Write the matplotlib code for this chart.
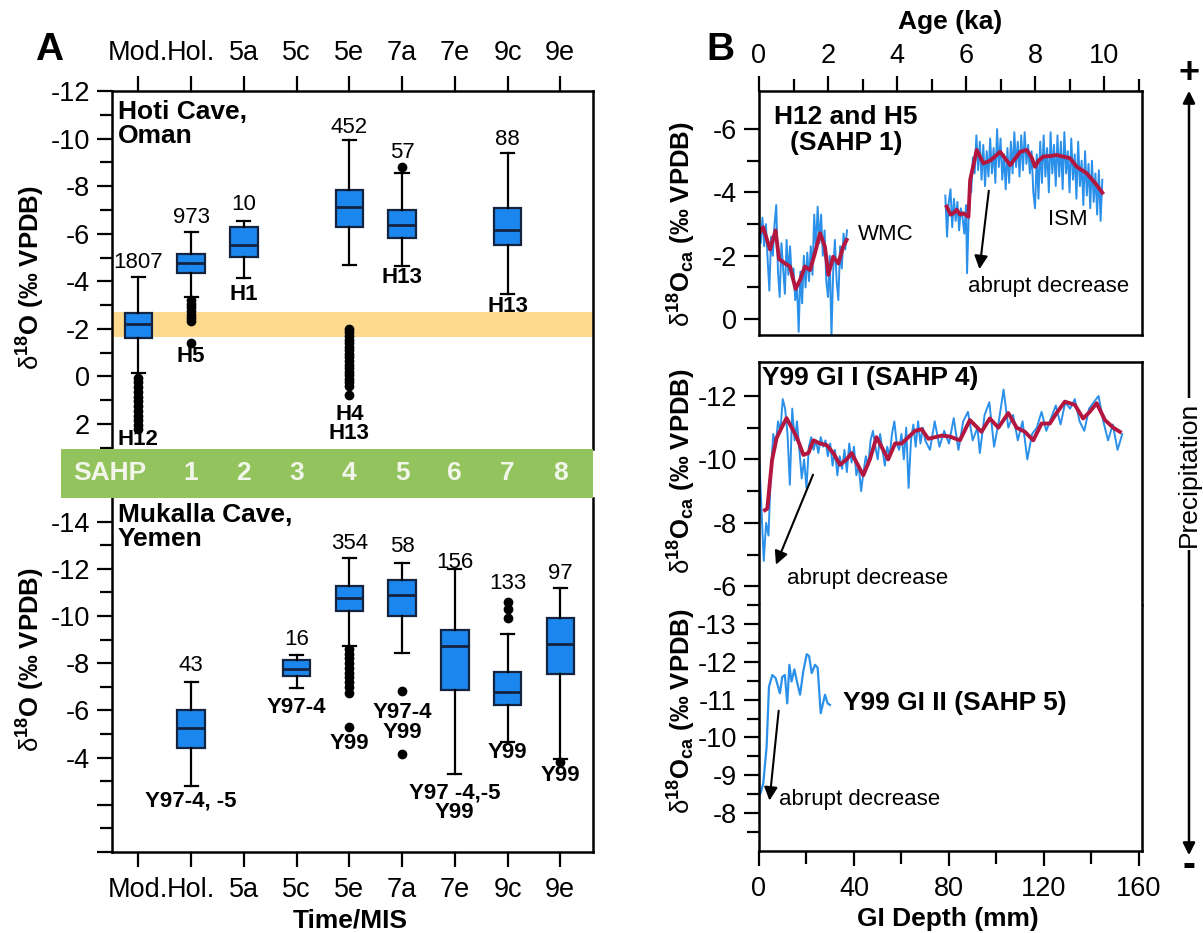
import numpy as np
import matplotlib
matplotlib.use("Agg")
import matplotlib.pyplot as plt
import matplotlib.transforms as mtransforms
from matplotlib.patches import Rectangle, FancyArrowPatch

plt.rcParams['font.family'] = ['Liberation Sans', 'DejaVu Sans']
plt.rcParams['axes.unicode_minus'] = False
plt.rcParams['mathtext.fontset'] = 'custom'
plt.rcParams['mathtext.rm'] = 'Liberation Sans'
plt.rcParams['mathtext.it'] = 'Liberation Sans:italic'
plt.rcParams['mathtext.bf'] = 'Liberation Sans:bold'

# ---- panel A: box plot statistics ----
mis_labels = ["Mod.", "Hol.", "5a", "5c", "5e", "7a", "7e", "9c", "9e"]
sahp_labels = ["1", "2", "3", "4", "5", "6", "7", "8"]

hoti_pos = [1, 2, 3, 5, 6, 8]
hoti_q1 = [-2.66, -5.15, -6.30, -7.85, -7.00, -7.08]
hoti_med = [-2.19, -4.77, -5.53, -7.14, -6.36, -6.16]
hoti_q3 = [-1.60, -4.35, -5.03, -6.30, -5.83, -5.53]
hoti_wlo = [-4.18, -6.08, -6.55, -9.93, -8.57, -9.38]
hoti_whi = [-0.15, -3.33, -4.14, -4.68, -4.64, -3.46]
hoti_fliers = [
    [0.05, 0.25, 0.45, 0.65, 0.85, 1.05, 1.25, 1.45, 1.65, 1.85, 2.05, 2.2],
    [-3.2, -3.05, -2.9, -2.75, -2.6, -2.45, -2.35, -1.4],
    [],
    [-2.0, -1.85, -1.7, -1.55, -1.4, -1.25, -1.1, -0.95, -0.8, -0.65, -0.5,
     -0.35, -0.2, -0.05, 0.1, 0.25, 0.4, 0.77],
    [-8.8],
    [],
]
hoti_n = ["1807", "973", "10", "452", "57", "88"]
hoti_n_y = [-4.77, -6.67, -7.22, -10.48, -9.42, -9.97]
hoti_tags = ["H12", "H5", "H1", "H4\nH13", "H13", "H13"]
hoti_tag_y = [2.67, -0.84, -3.46, 2.0, -4.18, -2.95]

muk_pos = [2, 4, 5, 6, 7, 8, 9]
muk_q1 = [-6.03, -8.15, -11.29, -11.53, -9.42, -7.64, -9.93]
muk_med = [-5.27, -7.77, -10.78, -10.90, -8.75, -6.80, -8.80]
muk_q3 = [-4.42, -7.47, -10.23, -10.00, -6.88, -6.25, -7.55]
muk_wlo = [-7.22, -8.36, -12.47, -12.26, -12.00, -9.25, -11.20]
muk_whi = [-2.81, -6.97, -8.75, -8.44, -3.32, -4.64, -3.96]
muk_fliers = [
    [],
    [],
    [-8.6, -8.4, -8.2, -8.0, -7.8, -7.6, -7.4, -7.2, -7.0, -6.75, -5.3],
    [-6.84, -4.17],
    [],
    [-10.6, -10.3, -9.9],
    [-3.8],
]
muk_n = ["43", "16", "354", "58", "156", "133", "97"]
muk_n_y = [-7.9, -9.0, -13.07, -12.94, -12.26, -11.37, -11.8]
muk_tags = ["Y97-4, -5", "Y97-4", "Y99", "Y97-4\nY99", "Y97 -4,-5\nY99", "Y99", "Y99"]
muk_tag_y = [-2.14, -6.12, -4.6, -5.48, -2.07, -4.21, -3.24]

# ---- panel B: time series ----
wmc_age = [0.00, 0.05, 0.10, 0.15, 0.20, 0.25, 0.30, 0.35, 0.40, 0.45, 0.50, 0.55, 0.60,
           0.65, 0.70, 0.75, 0.80, 0.85, 0.90, 0.95, 1.00, 1.05, 1.10, 1.15, 1.20, 1.25,
           1.30, 1.35, 1.40, 1.45, 1.50, 1.55, 1.60, 1.65, 1.70, 1.75, 1.80, 1.85, 1.90,
           1.95, 2.00, 2.05, 2.10, 2.15, 2.20, 2.25, 2.30, 2.35, 2.40, 2.45, 2.50, 2.55]
wmc_d18o = [-3.1, -2.4, -3.2, -2.3, -3.0, -1.9, -0.9, -2.6, -2.0, -3.0, -3.6, -1.5, -0.7,
            -2.4, -1.6, -0.8, -2.5, -1.4, -2.3, -1.3, -1.6, -0.6, -1.1, 0.4, -1.5, -0.5,
            -2.0, -1.0, -2.1, -1.2, -2.3, -1.4, -3.3, -2.2, -3.55, -2.4, -3.3, -2.0, -2.8,
            -1.2, -0.7, -2.0, 0.55, -1.5, -2.5, -1.2, -0.6, -2.3, -1.6, -2.7, -2.2, -2.8]
wmc_smooth_age = [0.0, 0.12, 0.32, 0.48, 0.58, 0.75, 0.90, 1.06, 1.19, 1.33, 1.48, 1.62,
                  1.77, 1.91, 2.01, 2.15, 2.30, 2.44, 2.54]
wmc_smooth = [-2.7, -2.9, -2.2, -2.8, -1.9, -1.76, -1.66, -0.95, -1.24, -1.66, -1.55, -2.08,
              -2.71, -2.29, -1.4, -1.97, -1.76, -2.29, -2.5]

ism_age = [5.40, 5.45, 5.50, 5.55, 5.60, 5.65, 5.70, 5.75, 5.80, 5.85, 5.90, 5.95, 6.00, 6.03, 6.07,
           6.10, 6.15, 6.20, 6.25, 6.30, 6.35, 6.40, 6.45, 6.50, 6.55, 6.60, 6.65, 6.70, 6.75, 6.80, 6.85, 6.90, 6.95,
           7.00, 7.05, 7.10, 7.15, 7.20, 7.25, 7.30, 7.35, 7.40, 7.45, 7.50, 7.55, 7.60, 7.65, 7.70, 7.75, 7.80, 7.85, 7.90, 7.95,
           8.00, 8.05, 8.10, 8.15, 8.20, 8.25, 8.30, 8.35, 8.40, 8.45, 8.50, 8.55, 8.60, 8.65, 8.70, 8.75, 8.80, 8.85, 8.90, 8.95,
           9.00, 9.05, 9.10, 9.15, 9.20, 9.25, 9.30, 9.35, 9.40, 9.45, 9.50, 9.55, 9.60, 9.65, 9.70, 9.75, 9.80, 9.85, 9.90, 9.95]
ism_d18o = [-3.9, -2.6, -3.7, -4.1, -2.9, -3.8, -3.1, -3.7, -2.8, -3.5, -3.2, -2.7, -3.6, -1.45, -3.0,
            -4.3, -4.0, -5.1, -4.6, -5.8, -4.7, -5.6, -4.4, -5.5, -4.2, -5.3, -4.5, -5.7, -4.6, -5.4, -4.3, -6.0, -4.8,
            -5.7, -4.4, -5.2, -4.1, -5.4, -4.3, -5.6, -4.6, -5.9, -4.8, -5.6, -4.5, -5.8, -4.7, -5.9, -4.9, -5.5, -4.6, -5.3, -4.0,
            -3.5, -5.2, -3.8, -5.6, -4.3, -5.8, -4.5, -5.4, -4.0, -5.9, -4.6, -5.5, -4.2, -5.8, -4.5, -5.6, -4.1, -5.9, -4.6, -5.3,
            -4.0, -5.7, -4.4, -5.2, -3.8, -5.6, -4.2, -5.0, -3.6, -5.3, -3.9, -4.9, -3.5, -5.0, -3.7, -4.6, -3.3, -4.7, -3.1, -4.4]
ism_smooth_age = [5.44, 5.55, 5.63, 5.73, 5.83, 5.92, 6.07, 6.12, 6.31, 6.50, 6.70, 6.99, 7.28,
                  7.57, 7.76, 7.90, 8.00, 8.10, 8.24, 8.45, 8.63, 9.01, 9.21, 9.50, 9.79, 9.95]
ism_smooth = [-3.55, -3.3, -3.34, -3.45, -3.3, -3.34, -3.23, -4.39, -5.34, -4.92, -5.0, -5.28, -4.86,
              -5.28, -5.34, -5.1, -4.81, -5.0, -5.13, -5.15, -5.18, -5.08, -4.81, -4.6, -4.23, -3.99]

gi1_depth = [0, 1, 2, 3, 4, 5, 6, 7, 8, 9, 10, 11, 12, 13, 14, 15, 16, 17, 18, 19, 20,
             21, 22, 23, 24, 25, 26, 27, 28, 29, 30, 31, 32, 33, 34, 35, 36, 37, 38, 39, 40,
             41, 42, 43, 44, 45, 46, 47, 48, 49, 50, 51, 52, 53, 54, 55, 56, 57, 58, 59, 60,
             61, 62, 63, 64, 65, 66, 67, 68, 69, 70, 72, 74, 76, 78, 80, 82, 84, 86, 88, 90,
             92, 93, 95, 97, 99, 101, 103, 105, 107, 109, 111, 113, 115, 117, 119, 121, 123,
             125, 127, 129, 131, 133, 135, 137, 139, 141, 143, 145, 147, 149, 151, 153]
gi1_d18o = [-10.2, -8.5, -6.8, -8.0, -7.6, -9.6, -10.8, -10.4, -11.2, -10.9, -11.9, -11.6, -10.8,
            -9.2, -11.6, -10.6, -11.2, -10.3, -9.4, -10.0, -9.1, -10.4, -10.7, -10.3, -10.6, -10.2,
            -10.7, -10.4, -10.6, -10.1, -10.5, -9.8, -10.3, -9.5, -10.1, -9.7, -10.3, -9.6, -10.5,
            -9.9, -10.4, -9.5, -9.8, -9.0, -9.6, -10.1, -9.8, -10.6, -10.9, -10.4, -10.0, -10.8,
            -10.3, -9.8, -10.4, -10.1, -10.8, -11.2, -10.5, -10.3, -10.8, -10.0, -11.0, -9.1,
            -10.6, -11.1, -10.4, -11.2, -10.5, -11.0, -10.6, -10.3, -11.2, -10.4, -10.9, -10.5,
            -11.3, -10.3, -11.2, -11.5, -10.6, -11.0, -10.2, -11.4, -11.8, -10.4, -11.2, -12.2,
            -11.0, -11.4, -10.6, -11.2, -10.0, -10.8, -11.0, -11.5, -10.9, -11.3, -11.7, -11.1,
            -11.8, -11.6, -11.9, -11.2, -10.9, -11.6, -11.8, -12.0, -11.2, -10.6, -11.1, -10.3, -10.8]
gi1_smooth_depth = [2.5, 3.5, 5.5, 7.4, 9.5, 11.6, 13.8, 15.9, 18.7, 20.8, 22.9, 25.7, 28.5,
                    31.3, 34.1, 36.9, 39.0, 41.1, 43.9, 46.7, 49.5, 52.3, 54.4, 57.3, 60.1, 62.9,
                    65.7, 68.5, 71.3, 74.1, 77.0, 80.4, 84.6, 88.8, 93.7, 97.2, 100.8, 105.0,
                    108.5, 112.0, 115.5, 119.0, 122.5, 125.3, 128.8, 133.0, 136.5, 139.3, 142.2,
                    145.7, 149.2, 152.0]
gi1_smooth = [-8.4, -8.45, -9.98, -10.67, -11.0, -11.3, -11.0, -10.7, -10.14, -10.2, -10.6, -10.5,
              -10.45, -10.2, -9.83, -10.0, -10.2, -9.9, -9.5, -10.0, -10.7, -10.3, -10.0, -10.5,
              -10.5, -10.7, -10.9, -10.95, -10.65, -10.7, -10.75, -10.72, -10.6, -11.24, -10.87,
              -11.29, -11.0, -11.46, -11.0, -10.87, -10.6, -11.13, -11.13, -11.46, -11.82, -11.72,
              -11.29, -11.5, -11.77, -11.24, -11.0, -10.87]

gi2_depth = [0.0, 0.8, 1.8, 3.2, 4.2, 5.6, 7.0, 8.8, 9.8, 10.9, 11.9, 12.8, 13.7, 14.9, 15.9,
             17.3, 18.7, 20.1, 21.1, 22.2, 23.6, 24.7, 26.0, 27.8, 28.9, 29.9]
gi2_d18o = [-8.43, -8.56, -8.79, -9.75, -11.34, -11.65, -11.57, -11.17, -11.6, -11.65, -10.9,
            -11.92, -11.48, -11.8, -11.5, -11.13, -11.77, -12.2, -12.15, -11.7, -11.92, -11.84,
            -10.64, -11.13, -10.9, -10.86]

BOX_BLUE = '#1a86ee'
EDGE = '#14233f'
LINE_BLUE = '#2a90ea'
RED = '#b3163f'
ORANGE = '#fdd98d'
GREEN = '#92c35c'
TICK_FS = 19.5
BOLD_FS = 19

W, H = 1203, 933
fig = plt.figure(figsize=(W / 100, H / 100), dpi=100)


def px_box(l, t, r, b):
    return [l / W, 1 - b / H, (r - l) / W, (b - t) / H]


def style(ax):
    for s in ax.spines.values():
        s.set_linewidth(1.8)
    ax.tick_params(which='major', length=11, width=1.6, labelsize=TICK_FS, pad=5)
    ax.tick_params(which='minor', length=9, width=1.6)


def boxes(ax, pos, q1, med, q3, wlo, whi, fliers):
    stats = [dict(q1=a, med=m, q3=b, whislo=lo, whishi=hi, fliers=f)
             for a, m, b, lo, hi, f in zip(q1, med, q3, wlo, whi, fliers)]
    ax.bxp(stats, positions=pos, widths=0.52, capwidths=0.25, patch_artist=True,
           manage_ticks=False,
           boxprops=dict(facecolor=BOX_BLUE, edgecolor=EDGE, linewidth=1.6),
           medianprops=dict(color=EDGE, linewidth=2.0),
           whiskerprops=dict(color='black', linewidth=1.6),
           capprops=dict(color='black', linewidth=1.6),
           flierprops=dict(marker='o', markerfacecolor='black', markeredgecolor='black',
                           markersize=6, linestyle='none'))


# ---------------- panel A ----------------
axAu = fig.add_axes(px_box(112, 91, 593, 449))
axAl = fig.add_axes(px_box(112, 498, 593, 852))
for ax in (axAu, axAl):
    style(ax)
    ax.set_xlim(0.5, 9.62)

axAu.spines['bottom'].set_visible(False)
axAu.xaxis.tick_top()
axAu.set_xticks(range(1, 10), mis_labels)
axAu.tick_params(axis='x', which='major', pad=7)
axAu.set_ylim(3.05, -12)
axAu.set_yticks(np.arange(-12, 3, 2))
axAu.set_yticks(np.arange(-11, 4, 2), minor=True)
axAu.axhspan(-2.7, -1.64, color=ORANGE, zorder=0, lw=0)
boxes(axAu, hoti_pos, hoti_q1, hoti_med, hoti_q3, hoti_wlo, hoti_whi, hoti_fliers)
for p, n, y in zip(hoti_pos, hoti_n, hoti_n_y):
    axAu.text(p, y, n, ha='center', va='center', fontsize=16)
for p, t, y in zip(hoti_pos, hoti_tags, hoti_tag_y):
    axAu.text(p, y, t, ha='center', va='center', fontsize=16, fontweight='bold', linespacing=0.9)
axAu.text(0.012, 0.975, "Hoti Cave,\nOman", transform=axAu.transAxes, ha='left', va='top',
          fontsize=BOLD_FS, fontweight='bold', linespacing=1.0)

axAl.spines['top'].set_visible(False)
axAl.set_xticks(range(1, 10), mis_labels)
axAl.tick_params(axis='x', which='major', pad=7)
axAl.set_ylim(0, -15)
ticks_lo = np.arange(-14, 1, 2)
axAl.set_yticks(ticks_lo, [str(int(v)) if v <= -4 else '' for v in ticks_lo])
axAl.set_yticks(np.arange(-13, 0, 2), minor=True)
boxes(axAl, muk_pos, muk_q1, muk_med, muk_q3, muk_wlo, muk_whi, muk_fliers)
for p, n, y in zip(muk_pos, muk_n, muk_n_y):
    axAl.text(p, y, n, ha='center', va='center', fontsize=16)
for p, t, y in zip(muk_pos, muk_tags, muk_tag_y):
    axAl.text(p, y, t, ha='center', va='center', fontsize=16, fontweight='bold', linespacing=0.9)
axAl.text(0.012, 0.985, "Mukalla Cave,\nYemen", transform=axAl.transAxes, ha='left', va='top',
          fontsize=BOLD_FS, fontweight='bold', linespacing=1.0)

# SAHP band between the two halves
fig.add_artist(Rectangle((61 / W, 1 - 498 / H), (593 - 61) / W, 49 / H,
                         transform=fig.transFigure, facecolor=GREEN, edgecolor='none', zorder=5))
band = mtransforms.blended_transform_factory(axAl.transData, fig.transFigure)
yb = 1 - 473.5 / H
fig.text(0.46, yb, "SAHP", transform=band, ha='center', va='center', fontsize=BOLD_FS,
         fontweight='bold', color='#f2f6ea', zorder=6)
for i, s in enumerate(sahp_labels):
    fig.text(i + 2, yb, s, transform=band, ha='center', va='center', fontsize=BOLD_FS,
             fontweight='bold', color='#f2f6ea', zorder=6)

ylab_A = r'$\mathrm{\delta}^{\mathbf{18}}$O (‰ VPDB)'
fig.text(31 / W, 1 - 278 / H, ylab_A, rotation=90, ha='center', va='center', fontsize=18.5, fontweight='bold')
fig.text(31 / W, 1 - 660 / H, ylab_A, rotation=90, ha='center', va='center', fontsize=18.5, fontweight='bold')
fig.text(350 / W, 1 - 921 / H, "Time/MIS", ha='center', va='center', fontsize=BOLD_FS, fontweight='bold')
fig.text(49 / W, 1 - 50 / H, "A", ha='center', va='center', fontsize=28, fontweight='bold')

# ---------------- panel B ----------------
axB1 = fig.add_axes(px_box(759, 91, 1142, 335))
axB2 = fig.add_axes(px_box(759, 362, 1142, 605))
axB3 = fig.add_axes(px_box(759, 605, 1142, 851))
for ax in (axB1, axB2, axB3):
    style(ax)

axB1.set_xlim(0, 11.1)
axB1.xaxis.tick_top()
axB1.set_xticks(np.arange(0, 11, 2))
axB1.set_xticks(np.arange(1, 12, 2), minor=True)
axB1.tick_params(axis='x', which='major', pad=5)
axB1.set_ylim(0.5, -7.2)
axB1.set_yticks([-6, -4, -2, 0])
axB1.set_yticks([-5, -3, -1], minor=True)
axB1.plot(wmc_age, wmc_d18o, color=LINE_BLUE, lw=1.4)
axB1.plot(wmc_smooth_age, wmc_smooth, color=RED, lw=2.8)
axB1.plot(ism_age, ism_d18o, color=LINE_BLUE, lw=1.4)
axB1.plot(ism_smooth_age, ism_smooth, color=RED, lw=2.8)
axB1.text(2.52, -5.97, "H12 and H5\n(SAHP 1)", ha='center', va='center', fontsize=BOLD_FS,
          fontweight='bold', linespacing=1.1)
axB1.text(2.87, -2.66, "WMC", ha='left', va='center', fontsize=16)
axB1.text(8.38, -3.13, "ISM", ha='left', va='center', fontsize=16)
axB1.text(6.06, -1.02, "abrupt decrease", ha='left', va='center', fontsize=16)
axB1.annotate('', xy=(6.38, -1.49), xytext=(6.67, -4.14),
              arrowprops=dict(arrowstyle='-|>', color='black', lw=1.5, mutation_scale=20))

for ax in (axB2, axB3):
    ax.set_xlim(0, 161.3)
axB2.spines['bottom'].set_visible(False)
axB2.tick_params(axis='x', which='both', bottom=False, labelbottom=False)
axB2.set_ylim(-5.41, -13.07)
axB2.set_yticks([-12, -10, -8, -6])
axB2.set_yticks([-11, -9, -7], minor=True)
axB2.plot(gi1_depth, gi1_d18o, color=LINE_BLUE, lw=1.4)
axB2.plot(gi1_smooth_depth, gi1_smooth, color=RED, lw=2.8)
axB2.text(1.3, -12.57, "Y99 GI I (SAHP 4)", ha='left', va='center', fontsize=BOLD_FS, fontweight='bold')
axB2.text(11.8, -6.26, "abrupt decrease", ha='left', va='center', fontsize=16)
axB2.annotate('', xy=(6.7, -6.6), xytext=(23.2, -9.6),
              arrowprops=dict(arrowstyle='-|>', color='black', lw=1.5, mutation_scale=20))

axB3.spines['top'].set_visible(False)
axB3.set_xticks([0, 40, 80, 120, 160])
axB3.set_xticks([20, 60, 100, 140], minor=True)
axB3.tick_params(axis='x', which='major', pad=7)
axB3.set_ylim(-7.0, -13.5)
axB3.set_yticks([-13, -12, -11, -10, -9, -8])
axB3.set_yticks(np.arange(-13.5, -7.4, 0.5), minor=True)
axB3.plot(gi2_depth, gi2_d18o, color=LINE_BLUE, lw=1.6)
axB3.text(35.4, -10.9, "Y99 GI II (SAHP 5)", ha='left', va='center', fontsize=BOLD_FS, fontweight='bold')
axB3.text(8.6, -8.35, "abrupt decrease", ha='left', va='center', fontsize=16)
axB3.annotate('', xy=(4.3, -8.26), xytext=(8.4, -10.78),
              arrowprops=dict(arrowstyle='-|>', color='black', lw=1.5, mutation_scale=20))

ylab_B = r'$\mathrm{\delta}^{\mathbf{18}}\mathbf{O}_{\mathbf{ca}}$ (‰ VPDB)'
for yc in (224, 471, 711):
    fig.text(682 / W, 1 - yc / H, ylab_B, rotation=90, ha='center', va='center',
             fontsize=18.5, fontweight='bold')
fig.text(950 / W, 1 - 22 / H, "Age (ka)", ha='center', va='center', fontsize=BOLD_FS, fontweight='bold')
fig.text(948 / W, 1 - 919 / H, "GI Depth (mm)", ha='center', va='center', fontsize=BOLD_FS, fontweight='bold')
fig.text(720 / W, 1 - 50 / H, "B", ha='center', va='center', fontsize=28, fontweight='bold')

# precipitation arrow on the right
xp = 1189 / W
fig.add_artist(FancyArrowPatch((xp, 1 - 858 / H), (xp, 1 - 88 / H), transform=fig.transFigure,
                               arrowstyle='<|-|>', mutation_scale=18, lw=1.8, color='black'))
fig.text(xp, 1 - 474 / H, "Precipitation", rotation=90, ha='center', va='center', fontsize=19,
         bbox=dict(facecolor='white', edgecolor='none', pad=2))
fig.text(xp, 1 - 74 / H, "+", ha='center', va='center', fontsize=26, fontweight='bold')
fig.text(xp, 1 - 866 / H, "-", ha='center', va='center', fontsize=28, fontweight='bold')

fig.savefig("out.png", dpi=100, facecolor='white')
